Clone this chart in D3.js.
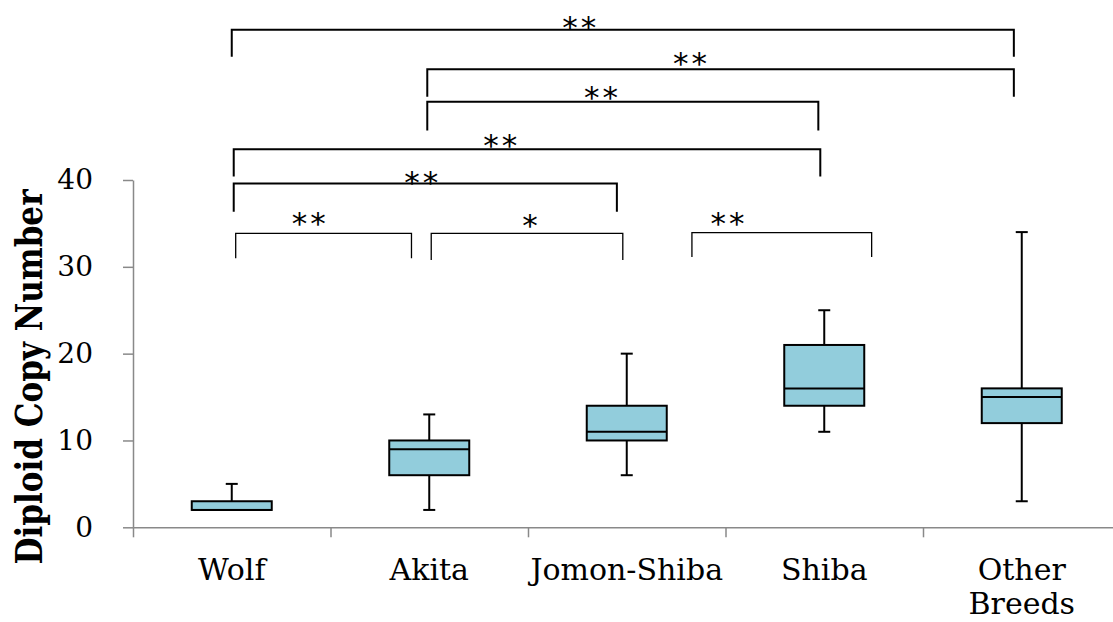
<!DOCTYPE html>
<meta charset="utf-8">
<style>
body { margin: 0; background: #fff; }
text { font-family: "DejaVu Serif", serif; fill: #000; }
.axis path, .axis line { stroke: #898989; stroke-width: 1.5px; }
.axis text { font-size: 28px; font-family: "DejaVu Serif", serif; }
.box rect { fill: #92cddc; stroke: #000; stroke-width: 2px; }
.box line { stroke: #000; stroke-width: 2px; }
.brackets path { fill: none; stroke: #000; }
.star { font-family: "DejaVu Sans", sans-serif; font-size: 31px; letter-spacing: 3px; }
</style>
<svg width="1113" height="622"></svg>
<script src="https://d3js.org/d3.v7.min.js"></script>
<script>

// box plot values (diploid copy number)
var breeds = ["Wolf", "Akita", "Jomon-Shiba", "Shiba", "Other Breeds"];
var lowerWhisker = [2, 2, 6, 11, 3];
var q1 = [2, 6, 10, 14, 12];
var median = [2, 9, 11, 16, 15];
var q3 = [3, 10, 14, 21, 16];
var upperWhisker = [5, 13, 20, 25, 34];
var yTicks = [0, 10, 20, 30, 40];

// significance brackets: ends in category-index units, heights in copy-number units
var bracketX1 = [0.00, 0.99, 0.99, 0.01, 0.01, 0.02, 1.01, 2.33];
var bracketX2 = [3.96, 3.96, 2.97, 2.98, 1.95, 0.91, 1.98, 3.24];
var bracketTop = [57.3, 52.75, 49.0, 43.55, 39.6, 33.86, 33.86, 33.93];
var bracketLeg = [54.2, 49.6, 45.7, 40.4, 36.35, 30.98, 30.8, 31.13];
var bracketMark = ["**", "**", "**", "**", "**", "**", "*", "**"];
var markX = [1.76, 2.32, 1.87, 1.36, 0.96, 0.39, 1.51, 2.51];
var markY = [58.2, 54.05, 50.17, 44.6, 40.4, 35.6, 35.4, 35.6];

var svg = d3.select("svg");

var x = d3.scaleLinear().domain([-0.5, 4.5]).range([133, 1120.5]);
var y = d3.scaleLinear().domain([0, 40]).range([527.3, 180]);

// axes
svg.append("g")
    .attr("class", "axis")
    .attr("transform", "translate(0," + y(0) + ")")
    .call(d3.axisBottom(x).tickValues(d3.range(-0.5, 5, 1)).tickFormat("").tickSize(10).tickSizeOuter(0));

svg.append("g")
    .attr("class", "axis")
    .attr("transform", "translate(" + x(-0.5) + ",0)")
    .call(d3.axisLeft(y).tickValues(yTicks).tickSize(10).tickSizeOuter(0).tickPadding(30));

// category labels
svg.append("g").selectAll("text")
    .data(breeds)
    .enter().append("text")
      .attr("x", function(d, i) { return x(i); })
      .attr("y", 580)
      .attr("text-anchor", "middle")
      .style("font-size", "30px")
    .each(function(d, i) {
      var t = d3.select(this);
      var words = d === "Other Breeds" ? d.split(" ") : [d];
      words.forEach(function(w, k) {
        t.append("tspan").attr("x", x(i)).attr("dy", k ? 34 : 0).text(w);
      });
    });

svg.append("text")
    .attr("transform", "translate(42," + 377 + ") rotate(-90)")
    .attr("text-anchor", "middle")
    .attr("font-weight", "bold")
    .attr("textLength", 375)
    .attr("lengthAdjust", "spacingAndGlyphs")
    .style("font-size", "37px")
    .text("Diploid Copy Number");

// boxes
var box = svg.append("g").attr("class", "box")
  .selectAll("g")
  .data(breeds)
  .enter().append("g");

box.append("line")
    .attr("x1", function(d, i) { return x(i); })
    .attr("x2", function(d, i) { return x(i); })
    .attr("y1", function(d, i) { return y(q3[i]); })
    .attr("y2", function(d, i) { return y(upperWhisker[i]); });

box.append("line")
    .attr("x1", function(d, i) { return x(i); })
    .attr("x2", function(d, i) { return x(i); })
    .attr("y1", function(d, i) { return y(q1[i]); })
    .attr("y2", function(d, i) { return y(lowerWhisker[i]); });

box.append("line")
    .attr("x1", function(d, i) { return x(i) - 6; })
    .attr("x2", function(d, i) { return x(i) + 6; })
    .attr("y1", function(d, i) { return y(upperWhisker[i]); })
    .attr("y2", function(d, i) { return y(upperWhisker[i]); });

box.append("line")
    .attr("x1", function(d, i) { return x(i) - 6; })
    .attr("x2", function(d, i) { return x(i) + 6; })
    .attr("y1", function(d, i) { return y(lowerWhisker[i]); })
    .attr("y2", function(d, i) { return y(lowerWhisker[i]); })
    .style("display", function(d, i) { return lowerWhisker[i] < q1[i] ? null : "none"; });

box.append("rect")
    .attr("x", function(d, i) { return x(i) - 40; })
    .attr("y", function(d, i) { return y(q3[i]); })
    .attr("width", 80)
    .attr("height", function(d, i) { return y(q1[i]) - y(q3[i]); });

box.append("line")
    .attr("x1", function(d, i) { return x(i) - 40; })
    .attr("x2", function(d, i) { return x(i) + 40; })
    .attr("y1", function(d, i) { return y(median[i]); })
    .attr("y2", function(d, i) { return y(median[i]); });

// significance brackets
var br = svg.append("g").attr("class", "brackets")
  .selectAll("g")
  .data(bracketMark)
  .enter().append("g");

br.append("path")
    .attr("d", function(d, i) {
      return "M" + x(bracketX1[i]) + "," + y(bracketLeg[i]) +
        "V" + y(bracketTop[i]) + "H" + x(bracketX2[i]) + "V" + y(bracketLeg[i]);
    })
    .style("stroke-width", function(d, i) { return bracketX2[i] - bracketX1[i] > 1.5 ? 2 : 1.3; });

br.append("text")
    .attr("class", "star")
    .attr("x", function(d, i) { return x(markX[i]) + 1.5; })
    .attr("y", function(d, i) { return y(markY[i]); })
    .attr("dy", "0.52em")
    .attr("text-anchor", "middle")
    .text(function(d) { return d; });

</script>
